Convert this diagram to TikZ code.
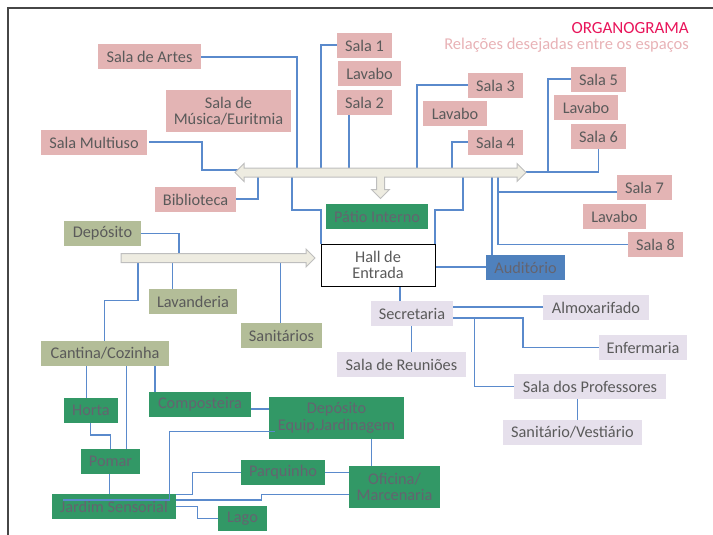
\documentclass[tikz,border=0pt]{standalone}
\usepackage{fontspec}
\setmainfont{Carlito}
\definecolor{pinkc}{RGB}{227,180,180}
\definecolor{olivec}{RGB}{179,189,152}
\definecolor{greenc}{RGB}{50,152,102}
\definecolor{lavc}{RGB}{230,224,236}
\definecolor{bluec}{RGB}{79,129,189}
\definecolor{linec}{RGB}{90,138,204}
\definecolor{arrfill}{RGB}{238,236,225}
\definecolor{arrdraw}{RGB}{190,190,190}
\definecolor{txtc}{RGB}{90,90,90}
\definecolor{gtxt}{RGB}{100,100,112}
\definecolor{titlec}{RGB}{232,20,90}
\definecolor{subc}{RGB}{232,178,182}
\definecolor{framec}{RGB}{70,70,70}
\tikzset{
  bx/.style={inner sep=0pt, minimum height=25pt, align=center,
    font=\fontsize{16.3}{16.5}\selectfont, text=txtc},
  pinkbox/.style={bx, fill=pinkc},
  olivebox/.style={bx, fill=olivec},
  greenbox/.style={bx, fill=greenc, text=gtxt},
  lavbox/.style={bx, fill=lavc},
  bluebox/.style={bx, fill=bluec, text=gtxt},
  hallbox/.style={bx, fill=white, draw=black, line width=1pt},
  ln/.style={draw=linec, line width=1.3pt},
  bigarrow/.style={fill=arrfill, draw=arrdraw, line width=1pt, line join=miter},
}
\begin{document}
\begin{tikzpicture}[x=1pt,y=-1pt]
\useasboundingbox (0,0) rectangle (713,535);
% frame
\draw[framec, line width=1.5pt] (8,535) -- (8,8) -- (713,8);
% title
\node[anchor=east, inner sep=0pt, text=titlec, font=\fontsize{17}{18}\selectfont] (title) at (689,28) {ORGANOGRAMA};
\node[anchor=east, inner sep=0pt, text=subc, font=\fontsize{16.5}{18}\selectfont] (subtitle) at (689,45) {Relações desejadas entre os espaços};

% ---------- connectors (under boxes) ----------
\draw[ln] (201,57) -| (297,168);
\draw[ln] (149,142) -| (202,170) -- (240,170);
\draw[ln] (236,199) -| (258,177);
\draw[ln] (292,177) |- (321,210) -- (321,244);
\draw[ln] (337,45) -| (321,168);
\draw[ln] (349,115) -- (349,168);
\draw[ln] (468,85) -| (417,168);
\draw[ln] (468,142) -| (452,168);
\draw[ln] (463,177) |- (435,210) -- (435,244);
\draw[ln] (571,79) -| (548,172) -- (526,172);
\draw[ln] (598.5,149) |- (548,172);
\draw[ln] (498,177) |- (628,244.5);
\draw[ln] (498,192) -- (617,192);
\draw[ln] (492,177) -- (492,255);
\draw[ln] (435,267) -- (486,267);
\draw[ln] (400,286) -- (400,301);
\draw[ln] (453,307) -- (543,307);
\draw[ln] (453,318) -| (523,347.5) -- (599,347.5);
\draw[ln] (474.3,318) |- (514,386.5);
\draw[ln] (411.7,326) -- (411.7,352);
\draw[ln] (577.3,399) -- (577.3,420);
% left
\draw[ln] (141,233.5) -| (179,253.5);
\draw[ln] (138,262.5) |- (104.7,300.7) -- (104.7,341);
\draw[ln] (172.3,262.5) -- (172.3,289.3);
\draw[ln] (280.5,262.5) -- (280.5,323);
\draw[ln] (86.3,366) -- (86.3,398);
\draw[ln] (126.7,366) -- (126.7,449);
\draw[ln] (155,366) -- (155,392);
\draw[ln] (90.3,423) |- (110.3,435) -- (110.3,449);
\draw[ln] (109.7,474) -- (109.7,494);
\draw[ln] (251,409) -- (269,409);
\draw[ln] (241,472.3) -| (192.3,494.3) -- (176,494.3);
\draw[ln] (349,494.7) -| (261.7,500) -- (176,500);
\draw[ln] (325,472.5) -- (349,472.5);
\draw[ln] (371.3,439) -- (371.3,466);
\draw[ln] (176,506.7) -| (197.3,518.5) -- (218,518.5);

% ---------- big arrows ----------
\path[bigarrow] (235,172.5) -- (244,163.5) -- (244,168) -- (517,168) -- (517,163.5)
  -- (526,172.5) -- (517,181.5) -- (517,177) -- (384.5,177) -- (384.5,189.5)
  -- (389.5,189.5) -- (380.5,198.5) -- (371.5,189.5) -- (376.5,189.5)
  -- (376.5,177) -- (244,177) -- (244,181.5) -- cycle;
\path[bigarrow] (121,253.5) -- (306,253.5) -- (306,249) -- (315,258) -- (306,267)
  -- (306,262.5) -- (121,262.5) -- cycle;

% ---------- boxes ----------
\node[pinkbox, minimum width=103pt] (artes) at (149.5,56.5) {Sala de Artes};
\node[pinkbox, minimum width=125pt, minimum height=42pt] (musica) at (228.5,111) {Sala de\\Música/Euritmia};
\node[pinkbox, minimum width=106pt] (multiuso) at (94,142.5) {Sala Multiuso};
\node[pinkbox, minimum width=81pt] (biblioteca) at (195.5,199.5) {Biblioteca};
\node[pinkbox, minimum width=55pt] (sala1) at (364.5,45.5) {Sala 1};
\node[pinkbox, minimum width=63pt] (lavabo1) at (369.5,73.5) {Lavabo};
\node[pinkbox, minimum width=55pt] (sala2) at (364.5,102.5) {Sala 2};
\node[pinkbox, minimum width=55pt] (sala3) at (495.5,85.5) {Sala 3};
\node[pinkbox, minimum width=64pt] (lavabo2) at (455,113.5) {Lavabo};
\node[pinkbox, minimum width=55pt] (sala4) at (495.5,142.5) {Sala 4};
\node[pinkbox, minimum width=55pt] (sala5) at (598.5,79.5) {Sala 5};
\node[pinkbox, minimum width=64pt] (lavabo3) at (586,107.5) {Lavabo};
\node[pinkbox, minimum width=55pt] (sala6) at (598.5,136.5) {Sala 6};
\node[pinkbox, minimum width=55pt] (sala7) at (644.5,187.5) {Sala 7};
\node[pinkbox, minimum width=63pt] (lavabo4) at (614.5,216.5) {Lavabo};
\node[pinkbox, minimum width=55pt] (sala8) at (655.5,244.5) {Sala 8};

\node[greenbox, minimum width=102pt] (patio) at (377,216.5) {Pátio Interno};
\node[hallbox, minimum width=114pt, minimum height=42pt] (hall) at (378,265) {Hall de\\Entrada};
\node[bluebox, minimum width=79pt] (auditorio) at (525.5,267.5) {Auditório};

\node[olivebox, minimum width=77pt] (deposito) at (102.5,233.5) {Depósito};
\node[olivebox, minimum width=88pt] (lavanderia) at (193,301.5) {Lavanderia};
\node[olivebox, minimum width=81pt] (sanitarios) at (281.5,335.5) {Sanitários};
\node[olivebox, minimum width=128pt] (cantina) at (105,353.5) {Cantina/Cozinha};

\node[greenbox, minimum width=54pt] (horta) at (91,410.5) {Horta};
\node[greenbox, minimum width=102pt] (composteira) at (200,404.5) {Composteira};
\node[greenbox, minimum width=135pt, minimum height=42pt] (depequip) at (336.5,418) {Depósito\\Equip.Jardinagem};
\node[greenbox, minimum width=59pt] (pomar) at (110.5,461.5) {Pomar};
\node[greenbox, minimum width=84pt] (parquinho) at (283,472.5) {Parquinho};
\node[greenbox, minimum width=91pt, minimum height=42pt] (oficina) at (394.5,487) {Oficina/\\Marcenaria};
\node[greenbox, minimum width=124pt] (jardim) at (114,506.5) {Jardim Sensorial};
\node[greenbox, minimum width=49pt] (lago) at (242.5,518.5) {Lago};

\node[lavbox, minimum width=82pt] (secretaria) at (412,313.5) {Secretaria};
\node[lavbox, minimum width=106pt] (almox) at (596,307.5) {Almoxarifado};
\node[lavbox, minimum width=88pt] (enfermaria) at (643,347.5) {Enfermaria};
\node[lavbox, minimum width=129pt] (reunioes) at (401.5,364.5) {Sala de Reuniões};
\node[lavbox, minimum width=152pt] (professores) at (590,386.5) {Sala dos Professores};
\node[lavbox, minimum width=139pt] (sanvest) at (572.5,432.5) {Sanitário/Vestiário};

% connector drawn over the boxes
\draw[ln] (274.7,431.7) -| (169.3,500) -- (63.3,500);
\end{tikzpicture}
\end{document}
